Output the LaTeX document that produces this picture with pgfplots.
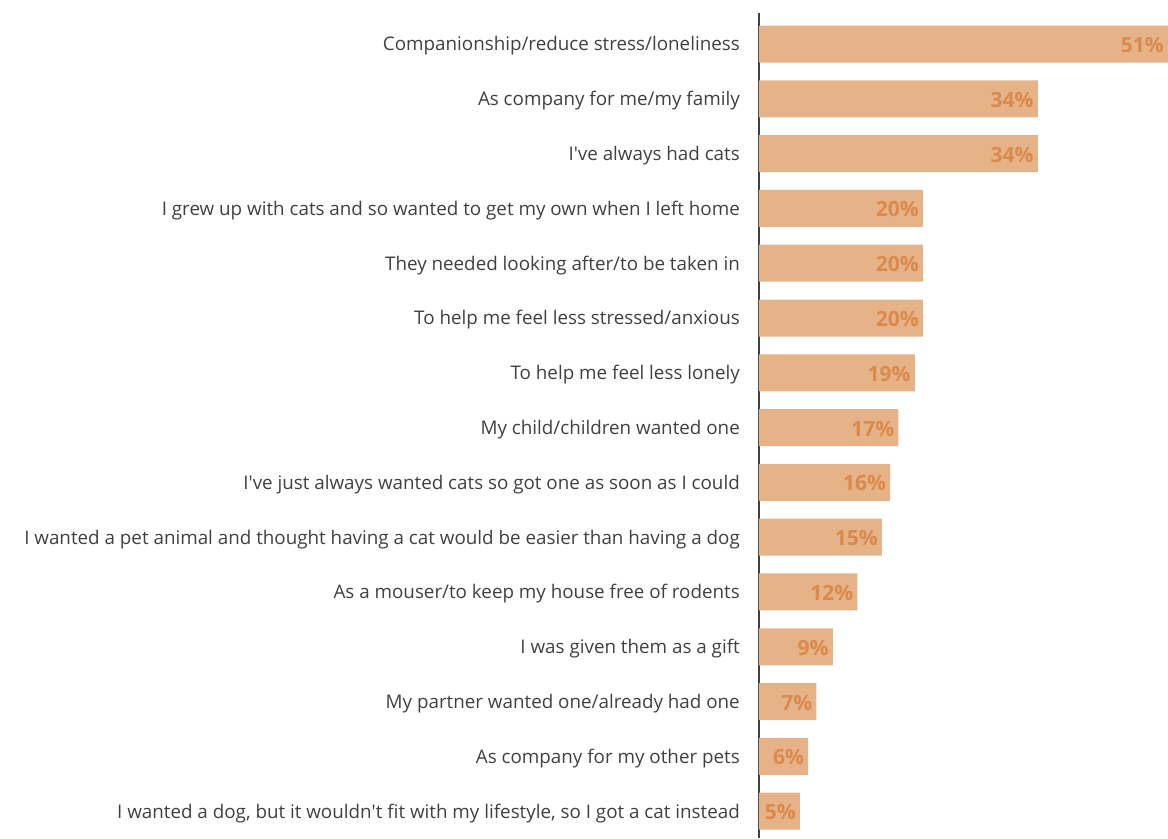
\documentclass[border=0pt]{standalone}
\usepackage{fontspec}
\setmainfont{Open Sans}
\usepackage{pgfplots}
\pgfplotsset{compat=1.18}
\usepackage{pgfplotstable}
\usetikzlibrary{calc}
\definecolor{barc}{RGB}{230,178,135}
\definecolor{valc}{RGB}{218,138,76}
\definecolor{txt}{RGB}{64,64,64}
\pgfplotstableread{
idx val
0 51
1 34
2 34
3 20
4 20
5 20
6 19
7 17
8 16
9 15
10 12
11 9
12 7
13 6
14 5
}\data
\begin{document}
\begin{tikzpicture}
\begin{axis}[name=ax, scale only axis, width=409pt, height=825pt,
  xmin=0, xmax=49.88, ymin=-0.566, ymax=14.49, y dir=reverse,
  axis x line=none, axis y line*=left,
  y axis line style={draw=txt, line width=1.2pt},
  ytick={0,...,14}, major tick length=0pt, tick style={draw=none},
  yticklabels={Companionship/reduce stress/loneliness,
    As company for me/my family,
    I\textquotesingle ve always had cats,
    I grew up with cats and so wanted to get my own when I left home,
    They needed looking after/to be taken in,
    To help me feel less stressed/anxious,
    To help me feel less lonely,
    My child/children wanted one,
    I\textquotesingle ve just always wanted cats so got one as soon as I could,
    I wanted a pet animal and thought having a cat would be easier than having a dog,
    As a mouser/to keep my house free of rodents,
    I was given them as a gift,
    My partner wanted one/already had one,
    As company for my other pets,
    {I wanted a dog, but it wouldn\textquotesingle t fit with my lifestyle, so I got a cat instead}},
  yticklabel style={font=\fontsize{18.8}{20}\selectfont, text=txt, inner sep=0pt, xshift=-19pt, yshift=-2pt},
]
\addplot[xbar, bar width=37pt, bar shift=0pt, fill=barc, draw=none] table[x=val, y=idx]{\data};
\addplot[only marks, mark=*, mark size=0pt, mark options={draw=none, fill=none},
  nodes near coords={\pgfmathprintnumber[assume math mode=true]{\pgfplotspointmeta}\%}, point meta=explicit,
  nodes near coords style={anchor=east, xshift=-4pt, yshift=-1pt, inner sep=0pt, font=\bfseries\fontsize{21}{24}\selectfont, text=valc}]
  table[x expr={min(\thisrow{val},49.88)}, y=idx, meta=val]{\data};
\end{axis}
\pgfresetboundingbox
\path ($(ax.south west)+(-759pt,0)$) rectangle ($(ax.north east)+(0,13pt)$);
\end{tikzpicture}
\end{document}
